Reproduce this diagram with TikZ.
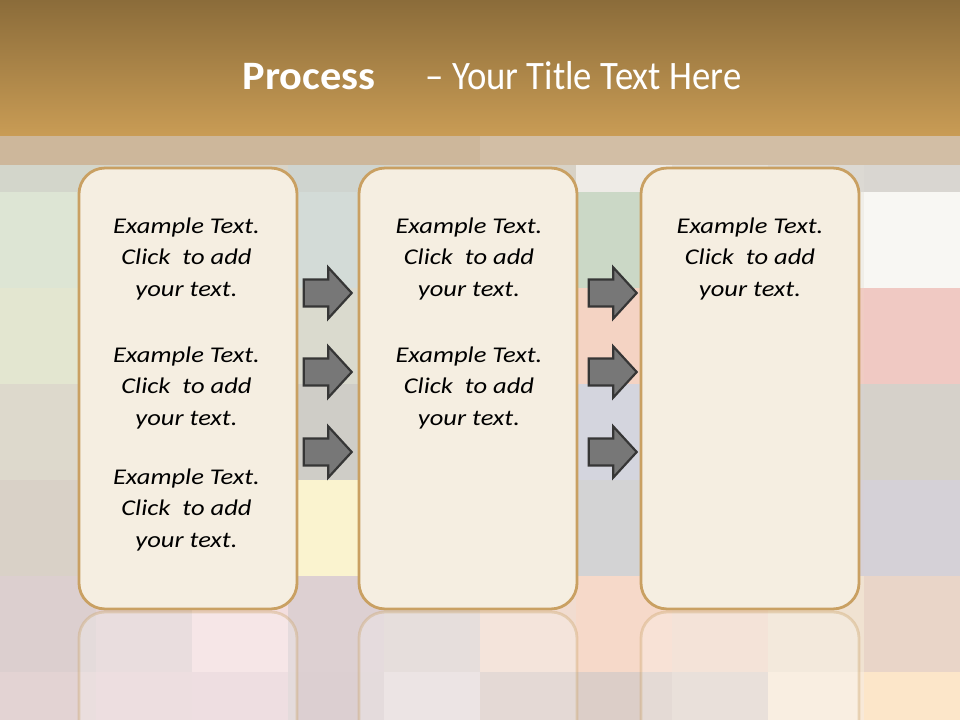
\documentclass[tikz,border=0pt]{standalone}
\usepackage{fontspec}
\setmainfont{Carlito}
\newfontfamily\bodyfont[FakeStretch=1.18]{Carlito}
\newfontfamily\titlereg[FakeStretch=0.91]{Carlito}
\newfontfamily\titlebold[FakeStretch=1.05]{Carlito}
\usetikzlibrary{shapes.arrows, fadings}

\definecolor{titletop}{HTML}{8B6C3A}
\definecolor{titlebot}{HTML}{C99C55}
\definecolor{stripcol}{HTML}{CDB79B}
\definecolor{boxfill}{HTML}{F5EEE1}
\definecolor{boxline}{HTML}{C9A062}
\definecolor{arrowfill}{HTML}{777777}
\definecolor{arrowline}{HTML}{363636}

\begin{document}
\begin{tikzpicture}[
    x=0.025cm, y=-0.025cm,
    procbox/.style = {rectangle, draw=boxline, line width=0.07cm, fill=boxfill, rounded corners=0.65cm, minimum width=5.45cm, minimum height=11.02cm, inner sep=0pt},
    bodytext/.style = {align=center, font=\fontsize{16}{22.7}\selectfont\bodyfont\itshape, text=black},
    titletext/.style = {font=\fontsize{28.7}{32}\selectfont, text=white, inner sep=0pt},
    flowarrow/.style = {single arrow, draw=arrowline, fill=arrowfill, line width=0.055cm, inner sep=0pt, text height=0.62cm, text depth=0pt, text width=0pt, minimum height=1.2cm, single arrow head extend=0.3cm, single arrow tip angle=95},
    reflect/.style = {draw=boxline, line width=0.07cm, fill=white, fill opacity=0.25, draw opacity=0.35, rounded corners=0.65cm}
]

    \useasboundingbox (0,0) rectangle (960,720);

    % Background swatches
    \foreach \ytop/\ybot/\cols in {
        165/192/{D3D6CB,D5D5CA,D8D4C8,CFD4CF,D4D4CA,D8D2C6,EEEBE6,E3E0DA,DCD9D3,D9D6D1},
        192/288/{DDE5D4,DCE3D2,DFE2D0,D3DBD7,D9DCD2,DCD9CB,CBD8C6,E6E4DC,F0EEE8,F8F7F3},
        288/384/{E3E6D0,E2E4CE,E1E0CC,DADACE,DAD8CB,EFD7C8,F4D3C3,F2D0C6,F0CCC3,F0C9C3},
        384/480/{DDD9CC,DBD6CA,D9D3C8,CFCDC7,D3D0CB,D8D5D8,D4D5DE,D5D3D6,D6D1CD,D6D1CA},
        480/576/{D9D1C7,DCD3C8,EDE6CC,FAF3CF,E4DED6,D8D6D6,D3D3D4,D5D2D6,D6D0D6,D5D1D7},
        576/672/{DCCFCF,E2D2D4,F3DEDF,DDD0D2,DED3D1,F1DCD0,F6D9C9,F1DACB,F0E2D1,E9D5C8},
        672/720/{E3D3D3,E8D3D6,E9D4D7,DCCFD1,E6DCDC,DCCDC7,DCCEC8,E2D6CE,F8E9D8,FCE6C9}} {
        \foreach \c [count=\i from 0] in \cols {
            \definecolor{cellcol}{HTML}{\c}
            \fill[cellcol] (96*\i,\ytop) rectangle (96*\i+96,\ybot);
        }
    }

    % Title bar
    \fill[stripcol] (0,135) rectangle (960,165);
    \fill[white, opacity=0.1] (480,135) rectangle (960,165);
    \shade[top color=titletop, bottom color=titlebot] (0,0) rectangle (960,136);
    \node[titletext] (title) at (492,76) {{\titlebold\bfseries Process}\hspace{1.25cm}{\titlereg – Your Title Text Here}};

    % Reflections
    \foreach \xl in {79,359,641} {
        \path[reflect] (\xl,740) -- (\xl,612) -- (\xl+218,612) -- (\xl+218,740);
    }

    % Boxes
    \node[procbox] (box1) at (188,388.5) {};
    \node[procbox] (box2) at (468,388.5) {};
    \node[procbox] (box3) at (750,388.5) {};

    % Texts
    \node[bodytext] (t11) at (186.5,259) {Example Text.\\Click\ \ to add\\your text.};
    \node[bodytext] (t12) at (186.5,388) {Example Text.\\Click\ \ to add\\your text.};
    \node[bodytext] (t13) at (186.5,510) {Example Text.\\Click\ \ to add\\your text.};
    \node[bodytext] (t21) at (469,259) {Example Text.\\Click\ \ to add\\your text.};
    \node[bodytext] (t22) at (469,388) {Example Text.\\Click\ \ to add\\your text.};
    \node[bodytext] (t31) at (750,259) {Example Text.\\Click\ \ to add\\your text.};

    % Arrows
    \foreach \yy [count=\k] in {293,372,452} {
        \node[flowarrow] (a1\k) at (321.5,\yy) {};
        \node[flowarrow] (a2\k) at (606.5,\yy) {};
    }

\end{tikzpicture}
\end{document}
